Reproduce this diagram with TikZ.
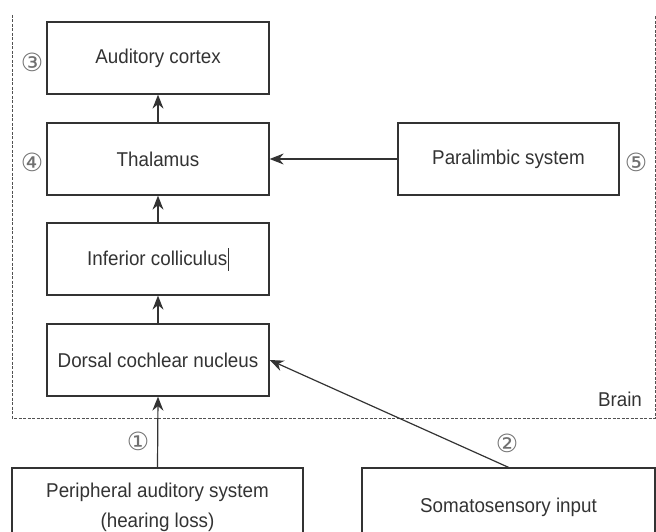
\documentclass[tikz,border=0pt]{standalone}
\usepackage{fontspec}
\setmainfont{Liberation Sans}[FakeStretch=0.94]
\newfontfamily\symfont{DejaVu Sans}
\usetikzlibrary{arrows.meta}
\definecolor{ink}{HTML}{333333}
\tikzset{
  box/.style={draw=ink, line width=1.3pt, fill=white, text=ink, minimum width=222pt, minimum height=72pt, inner sep=0pt, font=\fontsize{20}{30}\selectfont, align=center},
  conn/.style={draw=ink, line width=1.2pt, -{Stealth[length=14pt,width=11pt]}},
  num/.style={text=ink!70, font=\symfont\fontsize{25}{25}\selectfont, inner sep=0pt},
  brain/.style={draw=ink!85, line width=0.9pt, dash pattern=on 3pt off 1.5pt}
}
\begin{document}
\begin{tikzpicture}[x=1pt,y=-1pt]
\useasboundingbox (0,0) rectangle (656,532);
\clip (0,0) rectangle (656,532);
% brain region
\draw[brain] (12,15) -- (12,418) -- (655,418) -- (655,15);
\node[text=ink, font=\fontsize{20}{20}\selectfont, inner sep=0pt] (brainlbl) at (620,399) {Brain};
% boxes
\node[box] (ac) at (158,58) {Auditory cortex};
\node[box] (th) at (158,159) {Thalamus};
\node[box] (ic) at (158,259) {Inferior colliculus\hspace{0.5pt}\rule[-5pt]{1pt}{23pt}};
\node[box] (dcn) at (158,360) {Dorsal cochlear nucleus};
\node[box, minimum width=221pt] (pl) at (508.5,159) {Paralimbic system};
\node[box, minimum width=291pt, minimum height=78pt] (per) at (157.5,507) {Peripheral auditory system\\(hearing loss)};
\node[box, minimum width=293pt, minimum height=78pt] (som) at (508.5,507) {Somatosensory input};
% numbers
\node[num] (n3) at (32,62) {③};
\node[num] (n4) at (32,162) {④};
\node[num] (n5) at (636,162) {⑤};
\node[num] (n1) at (138,441) {①};
\node[num] (n2) at (507,443) {②};
% connectors
\draw[conn] (th) -- (ac);
\draw[conn] (ic) -- (th);
\draw[conn] (dcn) -- (ic);
\draw[conn] (pl) -- (th);
\draw[conn] (per.north) -- (dcn.south);
\draw[conn] (som.north) -- (dcn.east);
\end{tikzpicture}
\end{document}
